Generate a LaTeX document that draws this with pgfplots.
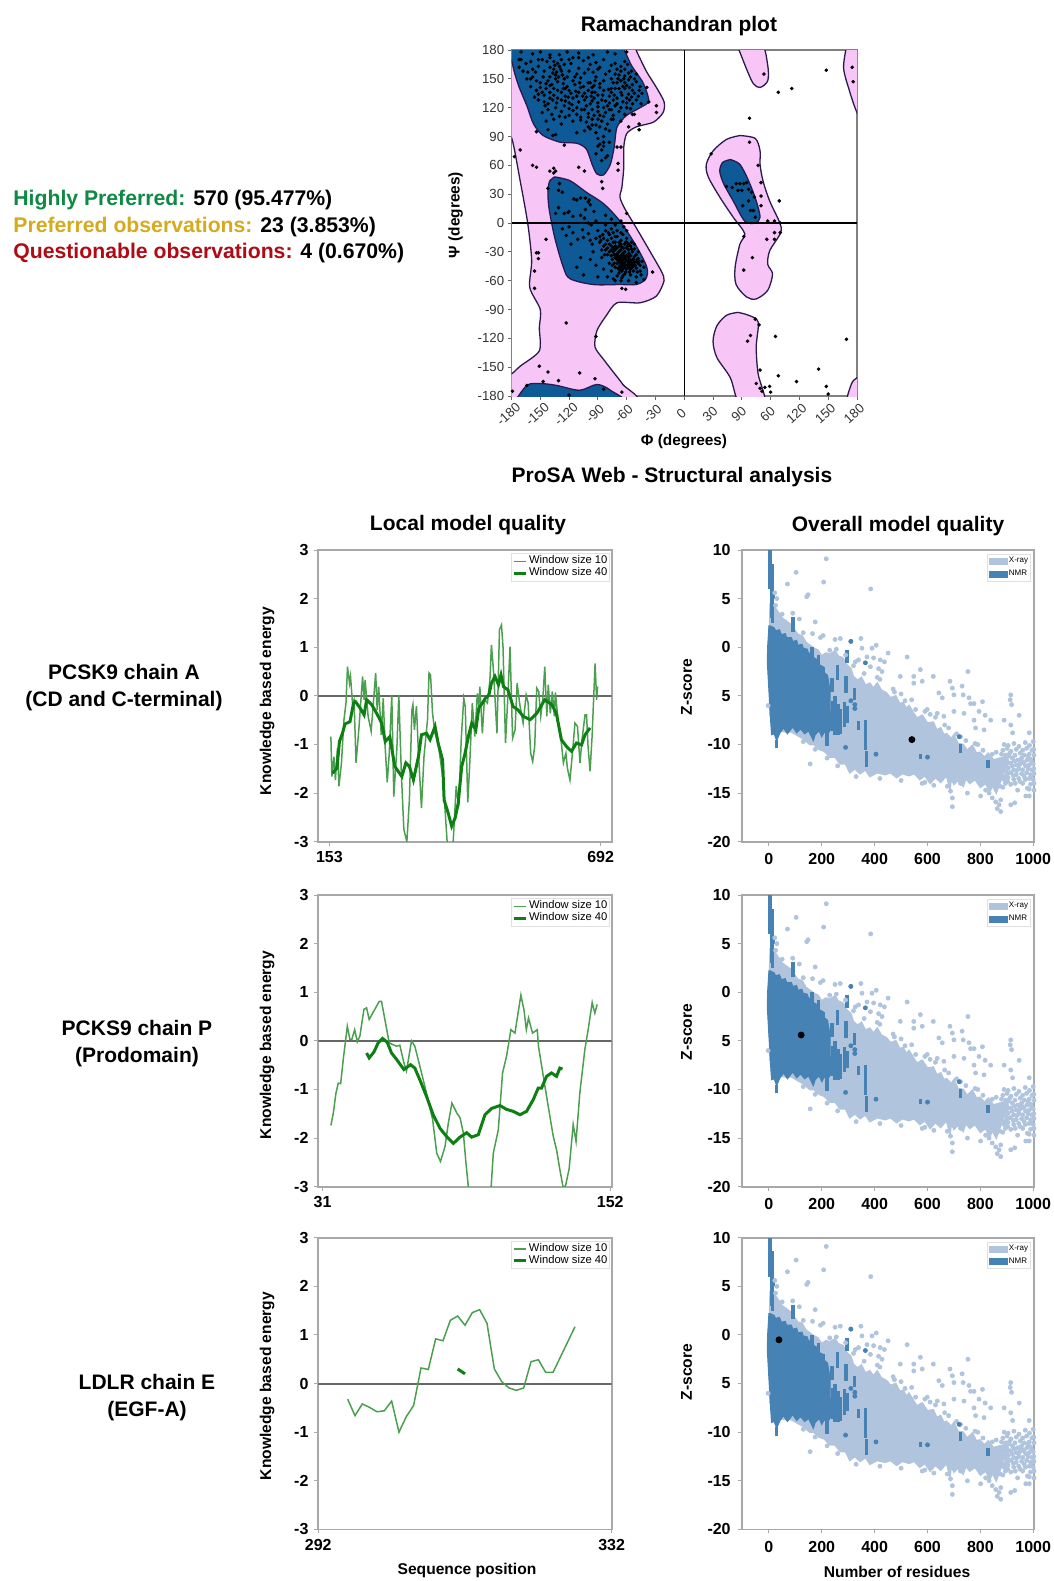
\documentclass[border=0pt]{standalone}
\usepackage{fontspec}
\setmainfont{Liberation Sans}
\usepackage{pgfplots}
\usepackage{pgfplotstable}
\pgfplotsset{compat=1.18}
\definecolor{pinkreg}{HTML}{F7C5F6}
\definecolor{bluereg}{HTML}{0D5A96}
\definecolor{contour}{HTML}{2A1A50}
\definecolor{winA}{HTML}{4C9F50}
\definecolor{winB}{HTML}{0E7F12}
\definecolor{xray}{HTML}{B0C4DE}
\definecolor{nmr}{HTML}{4682B4}
\definecolor{frame}{HTML}{A8A8A8}
\newcommand{\bfs}[1]{\bfseries\fontsize{#1}{#1}\selectfont}

\pgfplotstableread[row sep=\\]{x y\\5 4.5\\20 4.2\\50 3\\80 2.4\\110 1.3\\125 1.2\\140 .5\\170 -.1\\185 -.3\\200 -.9\\215 -.6\\230 -.7\\250 -.4\\262 -.9\\280 -1.1\\294 -1.8\\310 -2.2\\319 -3\\335 -3.4\\350 -3.1\\365 -3.9\\382 -3.7\\395 -4.2\\410 -3.7\\425 -4.4\\445 -4.7\\460 -5.2\\480 -5\\495 -5.8\\508 -5.7\\520 -6.3\\530 -6\\546 -6.7\\560 -7.3\\580 -7\\600 -7.8\\622 -7.7\\635 -8.5\\650 -8.3\\662 -9\\672 -8.9\\690 -9.4\\700 -9\\715 -9.9\\735 -10\\750 -10.6\\770 -10.1\\785 -10.9\\798 -10.8\\815 -11.3\\830 -10.9\\850 -11.6\\874 -11.4\\885 -12.5\\880 -13.5\\860 -15\\845 -14.2\\836 -14.9\\820 -14\\800 -14.4\\780 -13.6\\760 -14\\745 -13.5\\735 -14.3\\715 -13.7\\700 -14.1\\690 -13.5\\685 -14.6\\672 -13.2\\650 -13.9\\630 -13.4\\610 -14\\590 -13.2\\571 -13.6\\550 -13\\530 -13.2\\505 -13\\483 -13.4\\460 -12.9\\440 -13.1\\410 -12.9\\382 -13.3\\365 -12.6\\345 -13\\325 -12.5\\306 -12.9\\290 -12\\270 -12\\250 -11.3\\231 -11.3\\210 -10.7\\190 -10.5\\170 -10\\155 -10\\130 -9.4\\110 -9.1\\85 -8.7\\67 -8.7\\30 -8.6\\5 -7\\0 0\\5 4.5\\}\xraypoly

\pgfplotstableread[row sep=\\]{x y\\217 9.1\\207 6.7\\70 6.5\\103 7.7\\143 5.2\\148 5.4\\385 6\\30 5\\22 5.6\\25 4.3\\50 3.4\\90 3.5\\115 2.9\\175 2.6\\130 1.5\\165 1.4\\205 1.2\\195 1\\250 .8\\270 .9\\310 .6\\348 .9\\352 -.1\\390 -.1\\406 .2\\451 -.6\\523 -1\\327 -1.5\\339 -1.3\\371 -1\\396 -1.1\\421 -1.3\\437 -1.5\\384 -2\\415 -2.2\\428 -2.5\\573 -2.3\\497 -3\\548 -3\\622 -3\\753 -2.5\\580 -3.5\\548 -3.7\\685 -3.5\\694 -4.2\\731 -4\\735 -4.9\\700 -4.9\\643 -4.7\\656 -5.2\\757 -5.2\\776 -5.8\\808 -5.6\\818 -7\\839 -7.5\\763 -5.8\\915 -4.9\\913 -5.4\\918 -5.9\\947 -7\\890 -7.5\\915 -8\\985 -8.8\\795 -6.6\\776 -7.5\\700 -6.6\\738 -6.8\\662 -7.1\\637 -6.8\\599 -6.4\\782 -8.3\\814 -8.5\\922 -8.8\\978 -12.3\\1003 -14.7\\978 -14.5\\941 -14.7\\972 -15.3\\985 -15.3\\930 -16\\915 -16.2\\877 -16.9\\871 -16.2\\858 -15.9\\845 -15.5\\833 -15\\820 -14.7\\801 -15.3\\877 -15.7\\864 -16.6\\694 -15.5\\694 -16.4\\687 -14.8\\751 -15\\580 -14\\624 -14.2\\675 -14.3\\725 -14\\156 -12\\-3 -6\\255 -.2\\230 -.3\\290 -.8\\320 -1.9\\360 -2.7\\410 -3.1\\470 -4.3\\500 -4.8\\540 -5.4\\610 -6.9\\665 -8\\725 -9.2\\790 -10\\860 -10.8\\590 -13.9\\500 -13.7\\420 -13.5\\330 -13.3\\260 -12.2\\220 -11.4\\175 -10.5\\130 -9.7\\890 -10\\905 -10.1\\927 -9.9\\946 -10.2\\970 -9.8\\986 -10.1\\1000 -9.7\\885 -10.6\\901 -10.4\\916 -10.7\\936 -10.5\\960 -10.6\\975 -10.4\\995 -10.6\\880 -11\\896 -11.1\\911 -10.9\\931 -11.1\\951 -10.9\\966 -11.1\\985 -11\\1003 -11.1\\884 -11.5\\899 -11.6\\921 -11.4\\941 -11.6\\956 -11.4\\976 -11.6\\990 -11.5\\880 -12\\895 -12.1\\915 -11.9\\936 -12.1\\950 -12\\965 -11.9\\985 -12.1\\1000 -12\\886 -12.6\\906 -12.4\\926 -12.6\\946 -12.5\\960 -12.6\\981 -12.5\\995 -12.6\\881 -13\\900 -13.1\\916 -12.9\\936 -13.1\\956 -13\\975 -12.9\\990 -13.1\\1003 -13\\890 -13.6\\905 -13.4\\926 -13.6\\945 -13.5\\970 -13.6\\985 -13.5\\1000 -13.6\\895 -14\\915 -14.1\\960 -14\\990 -14.1\\1003 -14\\985 -14.6\\870 -12.3\\868 -13\\420 -3.3\\475 -4.6\\515 -5.5\\555 -6.4\\590 -6.6\\630 -7.2\\680 -8.3\\710 -8.9\\745 -9.6\\780 -9.9\\810 -10.6\\845 -11\\893 -11.4\\908 -11.2\\888 -11.9\\905 -11.9\\892 -12.4\\898 -12.8\\910 -12.9\\888 -13.3\\903 -13.8\\921 -12.2\\929 -11.7\\925 -13.2\\937 -12.7\\944 -12.2\\952 -11.6\\960 -11.8\\971 -12.2\\980 -11.2\\994 -11.8\\1002 -12.5\\1002 -10.5\\992 -13.4\\966 -13.3\\950 -13.8\\932 -14\\875 -14.3\\885 -14.4\\}\xraypts

\pgfplotstableread[row sep=\\]{x y\\-5 0\\0 2.2\\4 2.2\\20 2\\25 1.7\\40 1.8\\47 1.3\\62 1.4\\67 1\\85 1\\90 .6\\105 .7\\110 .2\\125 .3\\130 -.1\\145 -.2\\150 -.6\\165 -.6\\170 -1.1\\185 -1.3\\190 -1.8\\205 -2\\210 -2.6\\222 -2.9\\231 -4.4\\233 -8.5\\220 -9\\210 -8.7\\200 -9.2\\190 -8.6\\175 -9\\168 -9.6\\150 -8.6\\135 -8.9\\120 -8.4\\105 -8.8\\90 -8.2\\70 -8.9\\55 -8.3\\42 -8.8\\29 -9.6\\20 -8.9\\10 -9\\5 -7\\1 -5\\-6 -1.6\\-5 0\\}\nmrpoly

\pgfplotstableread[row sep=\\]{x y\\5 10\\5 6\\nan nan\\11 8.6\\11 3\\nan nan\\17 5.7\\17 5\\nan nan\\14 4.5\\14 2.5\\nan nan\\91 3.1\\91 1.6\\nan nan\\162 0\\162 -1.3\\nan nan\\187 -.8\\187 -2.3\\nan nan\\295 -.3\\295 -1.6\\nan nan\\206 -2\\206 -3.7\\nan nan\\260 -1.8\\260 -3.4\\nan nan\\238 -3.2\\238 -4.6\\nan nan\\292 -3\\292 -4.7\\nan nan\\241 -5.5\\241 -8.6\\nan nan\\251 -5\\251 -9\\nan nan\\261 -5.8\\261 -9\\nan nan\\271 -6.4\\271 -8.9\\nan nan\\286 -5.6\\286 -8.2\\nan nan\\298 -6\\298 -7.8\\nan nan\\324 -4.2\\324 -5.4\\nan nan\\365 -7.5\\365 -10.6\\nan nan\\369 -10.7\\369 -12.3\\nan nan\\339 -7.6\\339 -8.5\\nan nan\\219 -8.7\\219 -10.2\\nan nan\\725 -10\\725 -10.9\\nan nan\\830 -11.6\\830 -12.4\\nan nan\\573 -11\\573 -11.5\\nan nan\\29 -9.5\\29 -10.4\\nan nan\\}\nmrstripes

\pgfplotstableread[row sep=\\]{x y\\290 -10.3\\365 -1.6\\310 .6\\405 -11\\600 -11.3\\325 -5.9\\310 -5.5\\325 -6.3\\720 -9.2\\}\nmrpts

\newcommand{\zpanel}[3]{%
\begin{axis}[at={(370.85pt,-#1pt)},anchor=north west,scale only axis,width=146.15pt,height=145.85pt,
 xmin=-103,xmax=1003,ymin=-20,ymax=10,
 axis line style={frame,line width=0.9pt},tick style={frame,line width=0.5pt},major tick length=2pt,tick align=outside,xtick pos=bottom,ytick pos=left,
 xtick={0,200,400,600,800,1000},xticklabels={0,200,400,600,800,1000},
 ytick={10,5,0,-5,-10,-15,-20},yticklabels={10,5,0,5,-10,-15,-20},
 tick label style={font=\bfs{8}},xticklabel style={yshift=-0.5pt},
 legend style={at={(0.99,0.985)},anchor=north east,font=\fontsize{4}{4.2}\selectfont,draw=black!12,fill=white,inner sep=0.8pt,row sep=1pt,nodes={inner sep=0.5pt},cells={anchor=west}},
 legend image code/.code={\fill[##1] (0pt,-1.7pt) rectangle (9.5pt,1.7pt);},
 unbounded coords=jump,clip=true]
\addplot[forget plot,fill=xray,draw=xray,line width=0.8pt] table {\xraypoly};
\addplot[forget plot,only marks,mark=*,mark size=1pt,color=xray] table {\xraypts};
\addplot[forget plot,fill=nmr,draw=nmr,line width=0.5pt] table {\nmrpoly};
\addplot[forget plot,color=nmr,line width=1.8pt] table {\nmrstripes};
\addplot[forget plot,only marks,mark=*,mark size=1pt,color=nmr] table {\nmrpts};
\addplot[forget plot,only marks,mark=*,mark size=1.5pt,color=black] coordinates {(#2,#3)};
\addlegendimage{color=xray,fill=xray,draw=none}\addlegendentry{X-ray}
\addlegendimage{color=nmr,fill=nmr,draw=none}\addlegendentry{NMR}
\end{axis}}

\pgfplotsset{localaxis/.style={scale only axis,width=146.7pt,height=145.85pt,ymin=-3,ymax=3,
 axis line style={frame,line width=0.9pt},tick style={frame,line width=0.5pt},major tick length=2pt,tick align=outside,xtick pos=bottom,ytick pos=left,
 ytick={-3,-2,-1,0,1,2,3},yticklabels={-3,-2,-1,0,1,2,3},
 tick label style={font=\bfs{8}},xticklabel style={yshift=0.5pt},yticklabel style={xshift=0.6pt},
 legend style={at={(0.995,0.99)},anchor=north east,font=\fontsize{5.6}{5.8}\selectfont,draw=black!12,inner sep=0.6pt,row sep=-0.9pt,nodes={inner sep=0.6pt},cells={anchor=west}},
 legend image code/.code={\draw[##1] (0pt,0pt)--(6pt,0pt);}},
 winten/.style={color=winA,line width=0.75pt},
 winforty/.style={color=winB,line width=1.5pt}}

\begin{document}
\begin{tikzpicture}
\useasboundingbox (0pt,0pt) rectangle (527pt,-790.5pt);

% ------------- left text
\node[anchor=west,inner sep=0,font=\bfs{10.6}] at (6.5pt,-100pt) {\textcolor[HTML]{0F8A45}{Highly Preferred:} 570 (95.477\%)};
\node[anchor=west,inner sep=0,font=\bfs{10.6}] at (6.5pt,-113.5pt) {\textcolor[HTML]{D4AA1E}{Preferred observations:} 23 (3.853\%)};
\node[anchor=west,inner sep=0,font=\bfs{10.6}] at (6.5pt,-126.5pt) {\textcolor[HTML]{B00A14}{Questionable observations:} 4 (0.670\%)};

% ------------- Ramachandran
\begin{axis}[at={(255.75pt,-25pt)},anchor=north west,scale only axis,width=172.75pt,height=173pt,
 xmin=-180,xmax=180,ymin=-180,ymax=180,
 axis line style={black!50,line width=0.6pt},tick style={black!60,line width=0.4pt},major tick length=2pt,tick align=outside,xtick pos=bottom,ytick pos=left,
 xtick={-180,-150,...,180},xticklabels={-180,-150,-120,-90,-60,-30,0,30,90,60,120,150,180},
 ytick={-180,-150,...,180},yticklabels={-180,-150,-120,-90,-60,-30,0,30,60,90,120,150,180},
 tick label style={font=\fontsize{6.6}{7}\selectfont,text=black!80},
 xticklabel style={anchor=center,inner sep=0pt,xshift=-1.5pt,yshift=-7pt,rotate=42},
 yticklabel style={inner sep=1.5pt}]
\addplot[fill=pinkreg,draw=contour,line width=0.65pt,smooth,tension=0.45] coordinates {(-54,188)(-46,171)(-39,157)(-29,141)(-21,126)(-22,115)(-32,105)(-50,100)(-60,93)(-63,79)(-63,58)(-65,37)(-67,27)(-62,15)(-50,-5)(-36,-29)(-24,-50)(-21,-60)(-29,-76)(-46,-83)(-70,-83)(-81,-96)(-91,-112)(-93,-129)(-84,-142)(-74,-155)(-64,-168)(-52,-188)(-190,-188)(-190,-160)(-180,-157)(-171,-149)(-151,-133)(-151,-109)(-150,-90)(-161,-67)(-159,-39)(-163,-1)(-171,44)(-180,89)(-190,95)(-190,188)(-54,188)};
\addplot[fill=bluereg,draw=contour,line width=0.65pt,smooth,tension=0.45] coordinates {(-65,186)(-55,164)(-43,146)(-37,127)(-46,120)(-60,112)(-70,100)(-73,79)(-77,61)(-84,50)(-91,51)(-96,61)(-102,77)(-112,83)(-129,84)(-147,91)(-157,103)(-164,122)(-173,144)(-179,166)(-178,186)(-65,186)};
\addplot[fill=bluereg,draw=contour,line width=0.65pt,smooth,tension=0.5] coordinates {(-135,48)(-119,44)(-102,32)(-84,20)(-67,2)(-50,-24)(-39,-46)(-40,-58)(-50,-64)(-67,-64)(-95,-64)(-119,-58)(-126,-46)(-135,-15)(-141,16)(-142,34)(-140,44)(-135,48)};
\addplot[fill=bluereg,draw=contour,line width=0.65pt,smooth,tension=0.5] coordinates {(-178,-188)(-164,-169)(-150,-167)(-133,-169)(-109,-174)(-91,-168)(-77,-174)(-66,-188)(-178,-188)};
\addplot[fill=pinkreg,draw=contour,line width=0.65pt,smooth,tension=0.5] coordinates {(54,188)(65,160)(72,145)(79,141)(87,148)(87,164)(80,188)(54,188)};
\addplot[fill=pinkreg,draw=contour,line width=0.65pt,smooth,tension=0.5] coordinates {(170,188)(166,162)(172,138)(180,115)(192,95)(192,188)(170,188)};
\addplot[fill=pinkreg,draw=contour,line width=0.65pt,smooth,tension=0.5] coordinates {(192,-158)(180,-161)(174,-168)(170,-188)(192,-188)(192,-158)};
\addplot[fill=pinkreg,draw=contour,line width=0.65pt,smooth,tension=0.5] coordinates {(58,91)(74,88)(79,75)(79,61)(82,44)(89,23)(100,-1)(100,-11)(89,-29)(87,-43)(92,-53)(87,-70)(75,-79)(65,-77)(54,-64)(53,-46)(58,-22)(63,-11)(51,6)(37,27)(25,48)(23,61)(30,75)(44,87)(58,91)};
\addplot[fill=bluereg,draw=contour,line width=0.65pt,smooth,tension=0.5] coordinates {(48,66)(58,61)(67,44)(75,23)(79,6)(74,0)(63,2)(51,23)(41,41)(37,54)(40,63)(48,66)};
\addplot[fill=pinkreg,draw=contour,line width=0.65pt,smooth,tension=0.5] coordinates {(56,-93)(67,-96)(77,-103)(75,-129)(77,-157)(84,-188)(58,-188)(48,-161)(34,-140)(30,-123)(34,-107)(44,-96)(56,-93)};
\addplot[black,line width=0.7pt] coordinates {(0,-180)(0,180)};
\addplot[black,line width=0.7pt] coordinates {(-180,0)(180,0)};
% isolated residues
\addplot[only marks,mark=*,mark size=0.68pt,black] coordinates {
(148,159)(175,162)(176,147)(83,155)(98,136)(112,140)(68,109)(-29,122)(-29,115)(-47,103)(-47,97)(-58,100)(-39,141)(-37,126)(-52,113)(-70,79)(-66,79)(-69,62)(-69,55)(-171,76)(-177,69)(-158,60)(-154,58)(-136,57)(-134,54)(-140,54)(-136,52)(-110,58)(-104,54)(-125,81)(-154,95)(-137,91)(-86,43)(-85,36)(-142,36)(-60,10)(-144,-17)(-152,-31)(-154,-31)(-152,-37)(-156,-50)(-156,-68)(-33,-51)(-65,-68)(-61,-69)(-123,-104)(-92,-118)(-151,-149)(-142,-155)(-109,-156)(-131,-164)(-93,-162)(-179,-175)(-147,-165)(-164,-169)(-120,-179)(-84,-173)(-65,-176)(68,84)(28,72)(77,60)(80,42)(80,28)(80,18)(99,23)(87,2)(94,2)(100,0)(100,-10)(94,-10)(94,-17)(86,-17)(62,-14)(71,-36)(62,-49)(74,-100)(78,-106)(69,-117)(66,-123)(95,-118)(169,-121)(79,-153)(140,-152)(98,-159)(117,-165)(75,-167)(148,-170)(150,-178)(89,-170)(84,-171)(81,-175)(90,-176)(79,-172)(44,38)(50,37)(54,41)(58,41)(62,41)(65,42)(56,34)(60,34)(67,35)(70,32)(73,27)(61,18)(69,13)(72,13)(74,6)(67,23)(-127,32)(-131,16)(-121,11)(-116,7)(-112,24)(-103,26)(-100,22)(-98,19)(-104,5)(-130,41)};
% beta region
\addplot[only marks,mark=*,mark size=0.68pt,black] coordinates {
(-170,178)(-158,176)(-150,178)(-140,175)(-122,178)(-110,177)(-95,175)(-80,178)(-72,176)(-60,178)(-172,170)(-165,166)(-160,168)(-148,170)(-136,168)(-128,170)(-118,166)(-105,169)(-92,167)(-84,170)(-72,166)(-62,168)(-172,162)(-168,158)(-158,160)(-152,163)(-146,158)(-140,162)(-136,160)(-133,157)(-130,163)(-134,154)(-128,158)(-120,158)(-110,161)(-100,160)(-88,162)(-78,158)(-70,160)(-66,158)(-62,160)(-58,156)(-55,158)(-62,153)(-68,154)(-164,150)(-158,152)(-154,148)(-150,146)(-147,152)(-142,148)(-138,144)(-132,147)(-125,150)(-116,148)(-108,151)(-100,146)(-92,152)(-84,148)(-76,150)(-70,146)(-66,148)(-62,146)(-58,149)(-54,144)(-50,147)(-46,142)(-160,142)(-154,138)(-148,136)(-144,140)(-140,136)(-136,140)(-128,136)(-124,132)(-120,138)(-114,144)(-108,141)(-104,135)(-100,138)(-96,141)(-90,133)(-84,138)(-78,132)(-72,140)(-66,136)(-62,140)(-58,134)(-54,138)(-48,132)(-44,135)(-152,128)(-146,126)(-140,130)(-132,130)(-128,128)(-124,127)(-120,125)(-116,130)(-110,126)(-104,128)(-98,124)(-94,130)(-90,125)(-86,128)(-80,122)(-74,128)(-70,124)(-64,126)(-60,130)(-54,124)(-50,128)(-45,124)(-148,115)(-142,118)(-134,120)(-128,116)(-120,112)(-116,117)(-108,110)(-104,118)(-100,114)(-96,118)(-90,116)(-84,111)(-78,118)(-74,112)(-68,116)(-62,113)(-56,119)(-144,106)(-136,108)(-128,103)(-124,110)(-116,106)(-108,107)(-102,105)(-96,108)(-92,102)(-86,106)(-80,103)(-74,108)(-66,106)(-142,97)(-134,92)(-112,94)(-104,96)(-98,98)(-92,94)(-88,100)(-84,90)(-78,96)(-90,88)(-88,82)(-84,80)(-86,76)(-92,72)(-80,70)(-86,65)(-82,68)(-90,80)(-76,108)(-54,113)(-64,142)(-57,128)(-122,142)(-112,120)(-96,136)(-130,175)(-116,172)(-100,172)(-90,160)(-126,145)(-152,170)(-142,124)(-76,140)
(-135,164)(-132,166)(-129,160)(-137,156)(-134,150)(-131,152)(-127,154)(-140,152)(-144,145)(-150,141)(-146,133)(-152,134)(-140,143)(-137,128)(-124,140)(-118,135)(-113,137)(-106,132)(-102,131)(-97,132)(-93,136)(-121,131)(-117,123)(-112,132)(-110,136)(-105,142)(-98,146)(-94,143)(-88,141)(-85,133)(-82,127)(-79,139)(-76,136)(-73,133)(-70,130)(-68,140)(-65,133)(-63,150)(-60,143)(-57,141)(-72,155)(-69,150)(-74,146)(-66,163)(-59,165)(-56,152)(-52,150)(-50,155)(-47,138)(-52,135)(-55,131)(-60,125)(-66,120)(-72,122)(-78,125)(-84,120)(-90,121)(-96,127)(-102,122)(-107,118)(-112,113)(-100,110)(-94,112)(-88,112)(-82,115)(-76,118)(-60,120)(-120,119)(-125,122)(-133,125)(-130,111)(-138,113)(-145,122)(-156,131)(-160,150)(-155,157)(-163,157)(-170,170)(-143,168)(-125,165)(-112,155)(-104,156)(-95,157)(-82,155)(-76,164)(-140,172)(-98,165)(-110,172)(-120,170)(-88,145)(-93,148)(-109,146)(-114,152)(-122,152)(-126,140)(-132,138)(-136,133)(-90,108)(-96,102)(-100,100)(-82,98)(-84,84)(-78,84)};
% alpha region
\addplot[only marks,mark=*,mark size=0.68pt,black] coordinates {
(-131,34)(-115,25)(-125,10)(-108,26)(-120,12)(-134,10)(-104,5)(-100,0)(-97,-2)(-106,-7)(-120,-4)(-116,-10)(-123,-13)(-118,-22)(-127,-6)(-111,-17)(-105,-15)(-100,-11)(-98,-18)(-96,-22)(-90,-8)(-88,-14)(-85,-12)(-82,-8)(-79,-10)(-76,-6)(-72,-2)(-66,2)(-63,-4)(-88,-20)(-84,-24)(-80,-18)(-78,-22)(-76,-16)(-74,-26)(-72,-20)(-70,-14)(-68,-24)(-66,-18)(-64,-12)(-62,-22)(-60,-16)(-82,-28)(-78,-30)(-76,-34)(-74,-30)(-72,-28)(-70,-32)(-68,-30)(-66,-28)(-64,-32)(-62,-30)(-60,-26)(-58,-28)(-56,-24)(-54,-30)(-52,-27)(-72,-36)(-70,-38)(-68,-36)(-66,-34)(-64,-38)(-62,-36)(-60,-34)(-58,-36)(-56,-34)(-54,-38)(-52,-35)(-50,-33)(-48,-37)(-70,-42)(-68,-40)(-66,-42)(-64,-44)(-62,-41)(-60,-39)(-58,-42)(-56,-40)(-54,-43)(-52,-41)(-50,-40)(-48,-42)(-46,-44)(-66,-46)(-64,-48)(-62,-46)(-60,-48)(-58,-46)(-56,-48)(-54,-46)(-50,-47)(-46,-50)(-68,-52)(-62,-53)(-56,-54)(-50,-56)(-45,-54)(-74,-58)(-66,-60)(-58,-60)(-50,-62)(-42,-59)(-80,-56)(-84,-48)(-92,-44)(-90,-56)(-105,-54)(-112,-46)(-98,-38)(-108,-36)(-95,-30)(-86,-36)(-78,-42)(-76,-50)(-70,-55)(-65,-57)(-72,-46)(-44,-40)(-42,-46)(-48,-30)(-55,-20)(-58,-22)(-74,-10)(-70,-8)(-60,-8)(-82,-2)(-92,2)(-94,12)(-82,8)(-76,4)(-108,8)(-103,14)(-99,24)
(-86,-28)(-82,-22)(-80,-26)(-76,-24)(-74,-20)(-72,-24)(-70,-26)(-68,-20)(-65,-25)(-63,-26)(-61,-20)(-59,-24)(-57,-32)(-55,-27)(-80,-33)(-75,-38)(-73,-33)(-71,-35)(-69,-34)(-67,-38)(-65,-40)(-63,-34)(-61,-38)(-59,-40)(-57,-38)(-55,-41)(-53,-38)(-51,-44)(-49,-38)(-47,-40)(-67,-44)(-65,-36)(-63,-42)(-61,-44)(-59,-44)(-57,-44)(-55,-44)(-53,-45)(-69,-47)(-67,-49)(-65,-50)(-61,-51)(-57,-51)(-53,-50)(-75,-44)(-73,-42)(-83,-33)(-87,-18)(-92,-16)(-84,-16)(-78,-12)(-72,-14)(-66,-10)(-60,-20)(-52,-22)(-76,-28)(-66,-22)(-58,-32)(-49,-51)(-64,-55)(-72,-60)};
\end{axis}

% ------------- Local model quality, chain A
\begin{axis}[localaxis,at={(159.15pt,-275pt)},anchor=north west,xmin=131,xmax=714,xtick={153,692},xticklabels={153,692}]
\addplot[forget plot,black!60,line width=1pt] coordinates {(131,0)(714,0)};
\addplot[winten] coordinates {(156,-0.84)(158,-1.66)(162,-1.25)(165,-1.73)(169,-1.08)(172,-1.86)(177,-1.38)(182,-0.49)(186,-0.15)(189,0.60)(193,0.26)(195,0.40)(199,-0.15)(202,-0.08)(206,-1.38)(212,-0.63)(219,0.40)(222,-0.08)(224,0.33)(230,-0.42)(236,-0.73)(245,0.47)(248,-0.29)(251,0.19)(256,-0.80)(260,-0.05)(264,-1.08)(268,-1.78)(272,-1.18)(277,0.02)(281,-2.07)(287,-1.11)(291,0.02)(296,-1.59)(301,-2.75)(307,-3.0)(312,-2.14)(317,-0.29)(319,-0.18)(322,-0.70)(326,-0.21)(330,-1.18)(336,-2.31)(341,-1.25)(348,-0.49)(351,0.47)(354,0.43)(358,-0.36)(363,-0.77)(369,-0.97)(379,-1.73)(387,-3.0)(393,-3.37)(399,-3.0)(405,-1.86)(410,-2.27)(415,-0.90)(420,-0.05)(423,-0.22)(428,-2.19)(432,-1.38)(437,-0.15)(442,-0.84)(447,0.05)(450,-0.22)(452,0.19)(457,-0.77)(461,-0.08)(467,-0.15)(472,0.33)(475,1.05)(479,0.53)(486,-0.77)(491,1.36)(495,1.46)(498,1.01)(503,-0.97)(507,-0.15)(512,1.01)(517,-0.87)(522,-0.70)(526,0.26)(532,-0.22)(538,-0.56)(544,0.02)(548,-0.15)(553,-1.18)(557,-1.35)(561,-1.04)(565,0.16)(569,0.09)(573,-0.42)(577,-0.08)(581,0.60)(585,-0.42)(588,0.23)(592,-0.36)(596,0.09)(600,-0.42)(602,0.07)(608,-0.56)(614,-0.97)(618,-1.38)(623,-1.18)(626,-1.49)(631,-1.73)(636,-1.18)(641,-0.56)(646,-0.63)(651,-1.38)(655,-0.90)(661,-0.39)(664,-0.39)(667,-1.04)(671,-1.55)(675,-0.84)(681,0.67)(684,-0.08)(686,0.19)};
\addlegendentry{Window size 10}
\addplot[winforty] coordinates {(159,-1.59)(168,-1.49)(173,-0.94)(179,-0.77)(184,-0.58)(194,-0.53)(201,-0.15)(205,-0.12)(214,-0.25)(222,-0.39)(227,-0.08)(237,-0.18)(247,-0.36)(257,-0.56)(264,-0.94)(273,-0.84)(283,-1.45)(297,-1.66)(305,-1.38)(312,-1.45)(320,-1.73)(330,-1.25)(336,-0.80)(346,-0.77)(353,-0.90)(363,-0.63)(369,-0.97)(378,-1.32)(381,-2.14)(389,-2.41)(396,-2.68)(403,-2.51)(409,-2.21)(416,-1.45)(422,-1.21)(430,-0.80)(436,-0.56)(444,-0.70)(450,-0.25)(457,-0.15)(463,-0.05)(470,0.02)(475,0.26)(482,0.40)(489,0.23)(494,0.43)(499,0.19)(508,0.12)(518,-0.22)(528,-0.29)(538,-0.42)(552,-0.49)(565,-0.36)(581,-0.08)(595,-0.18)(604,-0.36)(614,-0.90)(624,-1.04)(634,-1.14)(644,-0.97)(654,-1.01)(661,-0.80)(671,-0.66)};
\addlegendentry{Window size 40}
\end{axis}

% ------------- chain P
\begin{axis}[localaxis,at={(159.15pt,-447.5pt)},anchor=north west,xmin=29.2,xmax=152.6,xtick={31,152},xticklabels={31,152}]
\addplot[forget plot,black!60,line width=1pt] coordinates {(29.2,0)(152.6,0)};
\addplot[winten] coordinates {(34.5,-1.74)(35.5,-1.49)(36.6,-1.08)(37.6,-0.87)(38.6,-0.88)(39.7,-0.38)(41.4,0.30)(42.5,0.03)(43.3,0.03)(44.5,0.23)(45.6,-0.02)(46.7,0.10)(48.4,0.65)(49.5,0.68)(50.6,0.44)(54.8,0.81)(55.8,0.81)(57.2,0.44)(59,-0.04)(60.7,-0.08)(62.1,-0.11)(63.5,-0.09)(65.2,-0.45)(66.3,-0.62)(68.4,0)(69.8,-0.11)(71.9,-0.52)(74.7,-1.07)(77.3,-1.62)(79,-2.31)(80.6,-2.48)(82.5,-2.17)(83.9,-1.69)(85.4,-1.28)(87.4,-1.48)(88.8,-1.58)(90.2,-1.89)(91.3,-2.51)(92.4,-3.05)(97.2,-3.9)(101.9,-3.0)(102.8,-2.31)(104.9,-1.83)(106.7,-0.66)(108.4,-0.31)(110.2,0.23)(111.9,0.16)(114.4,0.94)(115.7,0.64)(116.7,0.23)(117.6,0.47)(119.3,0.16)(121.3,0.23)(121.8,-0.11)(124.5,-0.93)(126.6,-1.55)(128,-1.96)(129.4,-2.24)(130.8,-2.65)(132.2,-3.02)(133.2,-2.98)(134.7,-2.63)(136.4,-1.72)(137.6,-2.07)(139.2,-1.07)(141.3,-0.18)(142.7,0.23)(144.4,0.79)(145.5,0.57)(146.5,0.75)};
\addlegendentry{Window size 10}
\addplot[winforty] coordinates {(49.5,-0.25)(50.6,-0.35)(52.6,-0.23)(54.4,-0.04)(56.2,0.05)(58.2,-0.03)(60,-0.25)(62.1,-0.38)(65.2,-0.59)(68,-0.49)(69.8,-0.56)(71.9,-0.80)(74.7,-1.14)(77.5,-1.52)(80.4,-1.80)(83.2,-1.97)(86,-2.11)(88.8,-1.98)(91.6,-1.89)(93.7,-1.98)(96.5,-1.93)(99.3,-1.52)(102.1,-1.39)(105.6,-1.33)(108.4,-1.41)(111.2,-1.45)(114,-1.52)(116.8,-1.45)(119.6,-1.21)(121.7,-0.97)(123.1,-0.97)(125.2,-0.73)(127.3,-0.66)(129.4,-0.73)(130.8,-0.56)(131.9,-0.58)};
\addlegendentry{Window size 40}
\end{axis}

% ------------- chain E
\begin{axis}[localaxis,at={(159.15pt,-618.85pt)},anchor=north west,xmin=292,xmax=332,xtick={292,332},xticklabels={292,332}]
\addplot[forget plot,black!60,line width=1pt] coordinates {(292,0)(332,0)};
\addplot[winten] coordinates {(296,-0.32)(297,-0.66)(298,-0.42)(299,-0.49)(300,-0.58)(301,-0.56)(302,-0.36)(303,-1.0)(304,-0.68)(305,-0.45)(306,0.32)(307,0.29)(308,0.92)(309,0.88)(310,1.30)(311,1.39)(312,1.20)(313,1.46)(314,1.52)(315,1.24)(316,0.30)(317,0.04)(318,-0.09)(319,-0.14)(320,-0.09)(321,0.45)(322,0.49)(323,0.23)(324,0.23)(327,1.17)};
\addlegendentry{Window size 10}
\addplot[winforty] coordinates {(311,0.30)(312,0.20)};
\addlegendentry{Window size 40}
\end{axis}

% ------------- Overall model quality
\zpanel{275}{541}{-9.5}
\zpanel{447.5}{122}{-4.4}
\zpanel{618.85}{38}{-0.5}

% ------------- titles and labels
\node[font=\bfs{10.5}] at (339.5pt,-13pt) {Ramachandran plot};
\node[font=\bfs{7.7}] at (342pt,-221pt) {Φ (degrees)};
\node[font=\bfs{7.7},rotate=90] at (227.8pt,-107.5pt) {Ψ (degrees)};
\node[font=\bfs{10.5}] at (336pt,-238.5pt) {ProSA Web - Structural analysis};
\node[font=\bfs{10.5}] at (234pt,-262.3pt) {Local model quality};
\node[font=\bfs{10.5}] at (449pt,-262.8pt) {Overall model quality};
\node[font=\bfs{10.5},align=center] at (62pt,-344pt) {PCSK9 chain A\\[3pt](CD and C-terminal)};
\node[font=\bfs{10.5},align=center] at (68.5pt,-522pt) {PCKS9 chain P\\[3pt](Prodomain)};
\node[font=\bfs{10.5},align=center] at (73.5pt,-699pt) {LDLR chain E\\[3pt](EGF-A)};
\node[font=\bfs{7.8},rotate=90] at (133.5pt,-350.5pt) {Knowledge based energy};
\node[font=\bfs{7.8},rotate=90] at (133.5pt,-522.5pt) {Knowledge based energy};
\node[font=\bfs{7.8},rotate=90] at (133.5pt,-693pt) {Knowledge based energy};
\node[font=\bfs{7.8},rotate=90] at (343.3pt,-343.5pt) {Z-score};
\node[font=\bfs{7.8},rotate=90] at (343.3pt,-516pt) {Z-score};
\node[font=\bfs{7.8},rotate=90] at (343.3pt,-686pt) {Z-score};
\node[font=\bfs{7.8}] at (233.5pt,-785.2pt) {Sequence position};
\node[font=\bfs{7.8}] at (448.5pt,-786pt) {Number of residues};
\end{tikzpicture}
\end{document}
